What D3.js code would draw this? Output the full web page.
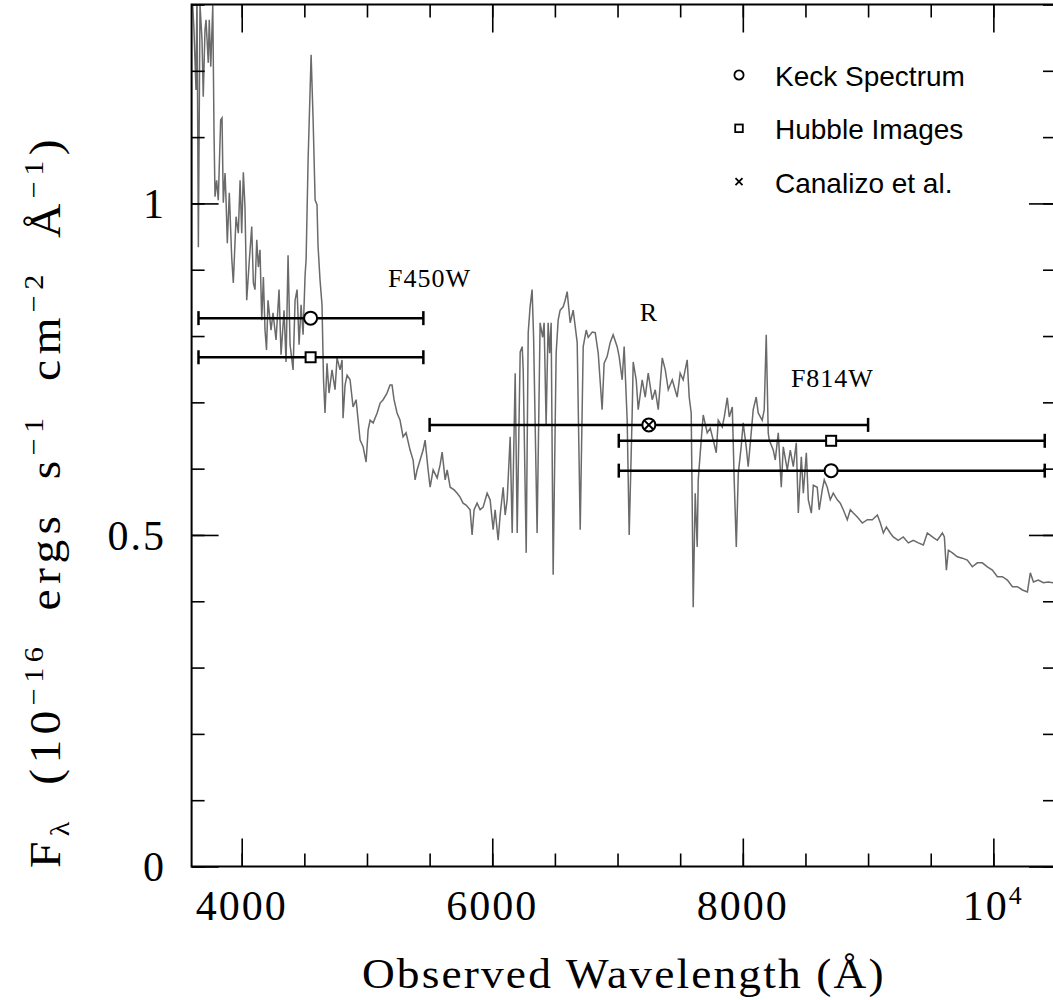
<!DOCTYPE html>
<html>
<head>
<meta charset="utf-8">
<script src="https://d3js.org/d3.v7.min.js"></script>
<style>
  body { margin: 0; background: #fff; }
  .serif { font-family: "Liberation Serif", "DejaVu Serif", serif; fill: #000; }
  .tickLb { font-size: 42px; letter-spacing: 2px; }
  .axisLb { font-size: 42px; letter-spacing: 2px; }
  .bandLb { font-size: 26px; letter-spacing: 1px; }
  .legLb { font-family: "Liberation Sans", Arial, sans-serif; font-size: 28px; fill: #000; }
</style>
</head>
<body>
<div id="main"></div>
<script>
const ctx = {
    w: 1053,
    h: 1000,
    left: 191.6, right: 1056,
    top: 4.5, bottom: 866.5,
};

// observed spectrum: [wavelength (A), flux (1e-16 erg/s/cm2/A)]
const spectrum = [
 [3603,1.32],[3619,1.262],[3635,1.171],[3643,1.32],[3654,0.934],[3667,1.30],[3683,1.247],[3693,1.161],[3707,1.262],[3715,1.277],
 [3733,1.212],[3741,1.277],[3753,1.206],[3769,1.299],[3779,1.106],[3787,1.010],[3800,1.035],[3813,1.005],[3832,1.126],[3843,1.129],
 [3853,1.001],[3867,1.046],[3875,1.005],[3885,0.940],[3901,1.016],[3920,0.919],[3933,0.880],[3955,0.980],[3973,0.955],[3987,1.035],
 [4000,0.955],[4013,1.047],[4026,0.995],[4040,0.854],[4061,0.915],[4080,0.965],[4093,0.880],[4106,0.870],[4120,0.945],[4133,0.904],
 [4146,0.930],[4160,0.824],[4173,0.889],[4186,0.809],[4198,0.779],[4210,0.854],[4234,0.809],[4250,0.835],[4274,0.794],[4298,0.870],
 [4314,0.772],[4338,0.839],[4354,0.761],[4370,0.922],[4386,0.787],[4410,0.749],[4426,0.854],[4442,0.870],[4458,0.787],[4474,0.847],
 [4490,0.802],[4506,0.892],[4514,0.915],[4530,1.066],[4554,1.224],[4570,1.126],[4586,1.005],[4601,0.998],[4609,0.937],[4625,0.885],
 [4641,0.847],[4653,0.734],[4665,0.684],[4681,0.759],[4697,0.714],[4721,0.749],[4745,0.719],[4761,0.767],[4785,0.749],[4801,0.764],
 [4809,0.676],[4825,0.726],[4841,0.741],[4865,0.734],[4889,0.693],[4913,0.704],[4945,0.643],[4969,0.633],[4993,0.610],[5009,0.658],
 [5025,0.673],[5049,0.669],[5081,0.684],[5105,0.699],[5129,0.704],[5160,0.714],[5184,0.726],[5200,0.726],[5216,0.704],[5240,0.684],
 [5264,0.673],[5288,0.648],[5312,0.654],[5344,0.628],[5368,0.613],[5384,0.583],[5400,0.598],[5424,0.613],[5448,0.628],[5464,0.643],
 [5488,0.598],[5504,0.572],[5528,0.598],[5560,0.586],[5584,0.606],[5600,0.625],[5624,0.583],[5640,0.598],[5664,0.572],[5696,0.568],
 [5720,0.563],[5743,0.557],[5767,0.548],[5791,0.545],[5823,0.538],[5839,0.500],[5855,0.538],[5879,0.548],[5903,0.538],[5927,0.542],
 [5959,0.563],[5983,0.553],[6007,0.508],[6023,0.538],[6047,0.492],[6063,0.530],[6087,0.572],[6103,0.530],[6119,0.553],[6143,0.648],
 [6159,0.503],[6183,0.744],[6199,0.503],[6223,0.776],[6239,0.784],[6247,0.749],[6271,0.473],[6287,0.805],[6302,0.844],[6318,0.870],
 [6330,0.798],[6358,0.503],[6382,0.820],[6402,0.798],[6414,0.820],[6430,0.666],[6446,0.820],[6458,0.774],[6470,0.820],[6486,0.440],
 [6510,0.774],[6526,0.824],[6542,0.839],[6566,0.844],[6582,0.854],[6598,0.867],[6622,0.820],[6646,0.839],[6678,0.790],[6702,0.508],
 [6726,0.784],[6750,0.809],[6766,0.798],[6798,0.806],[6822,0.805],[6846,0.774],[6877,0.689],[6893,0.759],[6917,0.769],[6941,0.790],
 [6965,0.802],[6997,0.784],[7013,0.769],[7037,0.734],[7053,0.784],[7077,0.673],[7093,0.500],[7117,0.684],[7125,0.761],[7149,0.734],
 [7165,0.689],[7197,0.734],[7221,0.708],[7245,0.744],[7277,0.704],[7301,0.719],[7325,0.689],[7357,0.767],[7381,0.749],[7405,0.719],
 [7437,0.734],[7476,0.708],[7500,0.744],[7524,0.734],[7556,0.764],[7572,0.708],[7588,0.684],[7596,0.548],[7604,0.391],[7620,0.563],
 [7636,0.482],[7644,0.583],[7668,0.643],[7684,0.681],[7716,0.654],[7740,0.661],[7764,0.643],[7788,0.624],[7804,0.673],[7836,0.663],
 [7852,0.678],[7876,0.707],[7892,0.678],[7916,0.693],[7932,0.578],[7948,0.482],[7964,0.593],[7987,0.633],[8003,0.669],[8027,0.633],
 [8043,0.603],[8067,0.654],[8083,0.689],[8107,0.708],[8123,0.684],[8155,0.673],[8171,0.689],[8187,0.802],[8203,0.654],[8211,0.643],
 [8243,0.628],[8259,0.613],[8283,0.654],[8307,0.572],[8323,0.633],[8355,0.598],[8379,0.628],[8403,0.603],[8427,0.639],[8443,0.533],
 [8467,0.618],[8483,0.563],[8507,0.624],[8523,0.553],[8547,0.533],[8563,0.575],[8594,0.572],[8610,0.538],[8634,0.568],[8650,0.583],
 [8674,0.572],[8698,0.553],[8722,0.563],[8754,0.553],[8778,0.548],[8802,0.538],[8834,0.523],[8858,0.538],[8882,0.533],[8914,0.527],
 [8954,0.518],[8994,0.523],[9034,0.523],[9074,0.530],[9098,0.518],[9122,0.503],[9146,0.512],[9177,0.503],[9201,0.497],[9241,0.492],
 [9281,0.497],[9321,0.488],[9361,0.492],[9401,0.488],[9441,0.485],[9473,0.503],[9513,0.497],[9553,0.492],[9593,0.503],[9609,0.497],
 [9625,0.447],[9641,0.477],[9673,0.473],[9712,0.467],[9752,0.465],[9792,0.462],[9832,0.452],[9872,0.458],[9912,0.458],[9952,0.452],
 [9992,0.447],[10032,0.437],[10072,0.437],[10112,0.432],[10152,0.422],[10192,0.422],[10232,0.417],[10272,0.414],[10295,0.443],[10320,0.429],
 [10359,0.432],[10399,0.428],[10439,0.429],[10479,0.428],[10503,0.431]
];

// photometric bands (filter widths) and measured fluxes
const bandNames = ["F450W", "R", "F814W"];
const bandLo = [3655, 5500, 7010];
const bandHi = [5450, 9000, 10410];
const bandMid = [4550, 7250, 8705];
const keckFlux = [0.827, 0.666, 0.597];
const hubbleFlux = [0.768, null, 0.642];
const canalizoFlux = [null, 0.666, null];
// where the band names are written (data units)
const bandLabelWave = [5500, 7250, 8715];
const bandLabelFlux = [0.874, 0.823, 0.723];

const legendNames = ["Keck Spectrum", "Hubble Images", "Canalizo et al."];
const xMajorTicks = [4000, 6000, 8000, 10000];
const yMajorTicks = [0, 0.5, 1];

function initSVGcanvas(){
    ctx.xScale = d3.scaleLinear().domain([3600, 10500]).range([ctx.left, ctx.right]);
    ctx.yScale = d3.scaleLinear().domain([0, 1.3]).range([ctx.bottom, ctx.top]);
    let xMinor = d3.range(4000, 10500, 500);
    let yMinor = d3.range(0, 1.31, 0.1);
    let bkg = d3.select("#bkgG");

    // ticks on all four sides, pointing inwards
    const addAxis = function(axisFn, scale, vals, size, tr){
        bkg.append("g")
           .attr("transform", tr)
           .call(axisFn(scale).tickValues(vals).tickSize(size).tickSizeOuter(0).tickFormat(""))
           .call(g => g.select(".domain").remove())
           .selectAll("line").style("stroke", "#000").style("stroke-width", 1.6);
    };
    addAxis(d3.axisBottom, ctx.xScale, xMinor, -13, `translate(0,${ctx.bottom})`);
    addAxis(d3.axisBottom, ctx.xScale, xMajorTicks, -28, `translate(0,${ctx.bottom})`);
    addAxis(d3.axisTop, ctx.xScale, xMinor, -13, `translate(0,${ctx.top})`);
    addAxis(d3.axisTop, ctx.xScale, xMajorTicks, -28, `translate(0,${ctx.top})`);
    addAxis(d3.axisLeft, ctx.yScale, yMinor, -13, `translate(${ctx.left},0)`);
    addAxis(d3.axisLeft, ctx.yScale, yMajorTicks, -27, `translate(${ctx.left},0)`);
    addAxis(d3.axisRight, ctx.yScale, yMinor, -13, `translate(${ctx.right},0)`);
    addAxis(d3.axisRight, ctx.yScale, yMajorTicks, -27, `translate(${ctx.right},0)`);

    // frame
    bkg.append("rect")
       .attr("x", ctx.left).attr("y", ctx.top)
       .attr("width", ctx.right - ctx.left).attr("height", ctx.bottom - ctx.top)
       .style("fill", "none").style("stroke", "#000").style("stroke-width", 2);

    // x tick labels (10^4 written as a power)
    bkg.selectAll("text.xt")
       .data(xMajorTicks)
       .enter()
       .append("text")
       .attr("class", "xt serif tickLb")
       .attr("x", d => ctx.xScale(d))
       .attr("y", 920)
       .attr("text-anchor", "middle")
       .each(function(d){
           let t = d3.select(this);
           if (d === 10000){
               t.append("tspan").text("10");
               t.append("tspan").attr("dy", -16).style("font-size", "26px").text("4");
           } else {
               t.text(d);
           }
       });

    // y tick labels
    bkg.selectAll("text.yt")
       .data(yMajorTicks)
       .enter()
       .append("text")
       .attr("class", "yt serif tickLb")
       .attr("x", 166)
       .attr("y", d => ctx.yScale(d))
       .attr("dy", "0.35em")
       .attr("text-anchor", "end")
       .text(d => d);

    // x-axis label
    bkg.append("text")
       .attr("class", "serif axisLb")
       .attr("transform", `translate(${(ctx.left + ctx.right) / 2},988) scale(1.08,1)`)
       .attr("text-anchor", "middle")
       .text("Observed Wavelength (\u00C5)");

    // y-axis label, with sub/superscripts
    let yl = bkg.append("text")
       .attr("class", "serif")
       .attr("transform", "translate(60,868) rotate(-90) scale(1.08,1)")
       .attr("text-anchor", "start")
       .style("font-size", "44px")
       .style("letter-spacing", "5px")
       .style("word-spacing", "13px");
    const parts = [
        ["F", 0, null], ["\u03BB", 9, 28], [" (10", -9, null], ["\u221216", -17, 28],
        [" ergs s", 17, null], ["\u22121", -17, 28], [" cm", 17, null], ["\u22122", -17, 28],
        [" \u00C5", 17, null], ["\u22121", -17, 28], [")", 17, null]
    ];
    parts.forEach(function(p){
        let ts = yl.append("tspan").attr("dy", p[1]).text(p[0]);
        if (p[2]) ts.style("font-size", p[2] + "px");
    });
}

function populateSVGcanvas(){
    // spectrum, clipped to the frame
    d3.select("#specG")
      .append("path")
      .datum(spectrum)
      .attr("clip-path", "url(#plotClip)")
      .attr("d", d3.line().x(d => ctx.xScale(d[0])).y(d => ctx.yScale(d[1])))
      .style("fill", "none")
      .style("stroke", "#6a6a6a")
      .style("stroke-width", 1.5);

    let rows = [];
    bandNames.forEach(function(b, i){
        [keckFlux[i], hubbleFlux[i]].forEach(function(f){
            if (f !== null) rows.push({lo: bandLo[i], hi: bandHi[i], f: f});
        });
    });
    let eb = d3.select("#barG").selectAll("g")
      .data(rows)
      .enter()
      .append("g")
      .style("stroke", "#000")
      .style("stroke-width", 2.5);
    eb.append("line")
      .attr("x1", d => ctx.xScale(d.lo)).attr("x2", d => ctx.xScale(d.hi))
      .attr("y1", d => ctx.yScale(d.f)).attr("y2", d => ctx.yScale(d.f));
    eb.append("line")
      .attr("x1", d => ctx.xScale(d.lo)).attr("x2", d => ctx.xScale(d.lo))
      .attr("y1", d => ctx.yScale(d.f) - 7).attr("y2", d => ctx.yScale(d.f) + 7);
    eb.append("line")
      .attr("x1", d => ctx.xScale(d.hi)).attr("x2", d => ctx.xScale(d.hi))
      .attr("y1", d => ctx.yScale(d.f) - 7).attr("y2", d => ctx.yScale(d.f) + 7);

    let mk = d3.select("#markG");
    // Keck: circles
    mk.selectAll("circle")
      .data(bandMid.map((w, i) => [w, keckFlux[i]]))
      .enter()
      .append("circle")
      .attr("cx", d => ctx.xScale(d[0]))
      .attr("cy", d => ctx.yScale(d[1]))
      .attr("r", 6.5)
      .style("fill", "#fff").style("stroke", "#000").style("stroke-width", 2);
    // Hubble: squares
    mk.selectAll("rect")
      .data(bandMid.map((w, i) => [w, hubbleFlux[i]]).filter(d => d[1] !== null))
      .enter()
      .append("rect")
      .attr("x", d => ctx.xScale(d[0]) - 5)
      .attr("y", d => ctx.yScale(d[1]) - 5)
      .attr("width", 10).attr("height", 10)
      .style("fill", "#fff").style("stroke", "#000").style("stroke-width", 2);
    // Canalizo et al.: crosses
    mk.selectAll("path.cx")
      .data(bandMid.map((w, i) => [w, canalizoFlux[i]]).filter(d => d[1] !== null))
      .enter()
      .append("path")
      .attr("class", "cx")
      .attr("d", function(d){
          let x = ctx.xScale(d[0]), y = ctx.yScale(d[1]), s = 4.3;
          return `M${x-s},${y-s}L${x+s},${y+s}M${x-s},${y+s}L${x+s},${y-s}`;
      })
      .style("stroke", "#000").style("stroke-width", 2);

    // band names
    mk.selectAll("text")
      .data(bandNames)
      .enter()
      .append("text")
      .attr("class", "serif bandLb")
      .attr("x", (d, i) => ctx.xScale(bandLabelWave[i]))
      .attr("y", (d, i) => ctx.yScale(bandLabelFlux[i]))
      .attr("text-anchor", "middle")
      .text(d => d);
}

function drawLegend(){
    let lg = d3.select("#legG").attr("transform", "translate(739,75)");
    let row = lg.selectAll("g")
      .data(legendNames)
      .enter()
      .append("g")
      .attr("transform", (d, i) => `translate(0,${i * 53.3})`);
    row.append("text")
       .attr("class", "legLb")
       .attr("x", 36)
       .attr("y", 11)
       .text(d => d);
    lg.select("g:nth-child(1)").append("circle")
      .attr("r", 4.6)
      .style("fill", "none").style("stroke", "#000").style("stroke-width", 1.8);
    lg.select("g:nth-child(2)").append("rect")
      .attr("x", -3.8).attr("y", -3.8).attr("width", 7.6).attr("height", 7.6)
      .style("fill", "none").style("stroke", "#000").style("stroke-width", 1.8);
    lg.select("g:nth-child(3)").append("path")
      .attr("d", "M-3.5,-3.5L3.5,3.5M-3.5,3.5L3.5,-3.5")
      .style("stroke", "#000").style("stroke-width", 1.8);
}

function createViz(){
    let svgEl = d3.select("#main").append("svg");
    svgEl.attr("width", ctx.w);
    svgEl.attr("height", ctx.h);
    svgEl.append("defs").append("clipPath").attr("id", "plotClip")
         .append("rect")
         .attr("x", ctx.left).attr("y", ctx.top)
         .attr("width", ctx.right - ctx.left).attr("height", ctx.bottom - ctx.top);
    let rootG = svgEl.append("g").attr("id", "rootG");
    rootG.append("g").attr("id", "specG");
    rootG.append("g").attr("id", "bkgG");
    rootG.append("g").attr("id", "barG");
    rootG.append("g").attr("id", "markG");
    rootG.append("g").attr("id", "legG");
    initSVGcanvas();
    populateSVGcanvas();
    drawLegend();
}

createViz();
</script>
</body>
</html>
